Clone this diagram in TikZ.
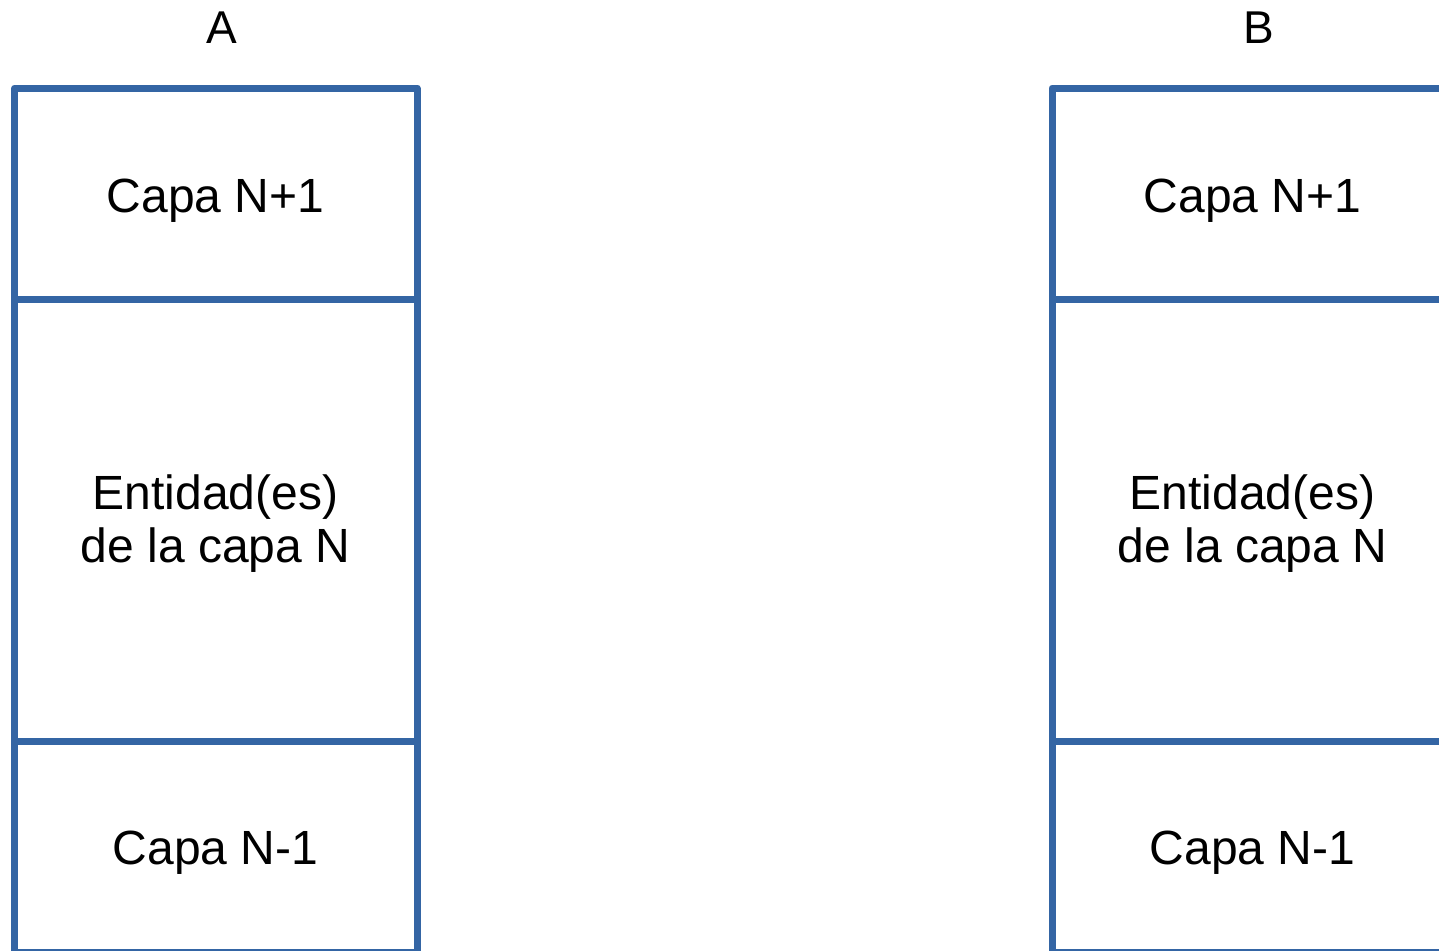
\documentclass[tikz,border=0pt]{standalone}
\usepackage{fontspec}
\setmainfont{Liberation Sans}
\definecolor{layerblue}{HTML}{3465A4}
\begin{document}
\begin{tikzpicture}[x=1pt,y=-1pt,
  cell/.style={draw=layerblue,line width=7pt,line join=round,minimum width=402.5pt,inner sep=0pt,outer sep=0pt},
  lbl/.style={font=\fontsize{48}{54}\selectfont,anchor=base,inner sep=0pt,align=center},
  ttl/.style={font=\fontsize{46}{52}\selectfont,anchor=base,inner sep=0pt}]
\useasboundingbox (0,0) rectangle (1439,950);
\clip (0,0) rectangle (1439,950);
% column A
\node[cell,minimum height=211pt] (a1) at (215.75,193.5) {};
\node[cell,minimum height=442pt] (a2) at (215.75,520) {};
\node[cell,minimum height=211pt] (a3) at (215.75,846.5) {};
% column B
\node[cell,minimum height=211pt] (b1) at (1253.25,193.5) {};
\node[cell,minimum height=442pt] (b2) at (1253.25,520) {};
\node[cell,minimum height=211pt] (b3) at (1253.25,846.5) {};
% titles
\node[ttl] (ta) at (222,44) {A};
\node[ttl] (tb) at (1259,44) {B};
% labels
\node[lbl] (la1) at (215.5,212) {Capa N+1};
\node[lbl] (la2) at (215.5,509) {Entidad(es)};
\node[lbl] (la2b) at (215.5,562) {de la capa N};
\node[lbl] (la3) at (215.5,864) {Capa N-1};
\node[lbl] (lb1) at (1252.5,212) {Capa N+1};
\node[lbl] (lb2) at (1252.5,509) {Entidad(es)};
\node[lbl] (lb2b) at (1252.5,562) {de la capa N};
\node[lbl] (lb3) at (1252.5,864) {Capa N-1};
\end{tikzpicture}
\end{document}
